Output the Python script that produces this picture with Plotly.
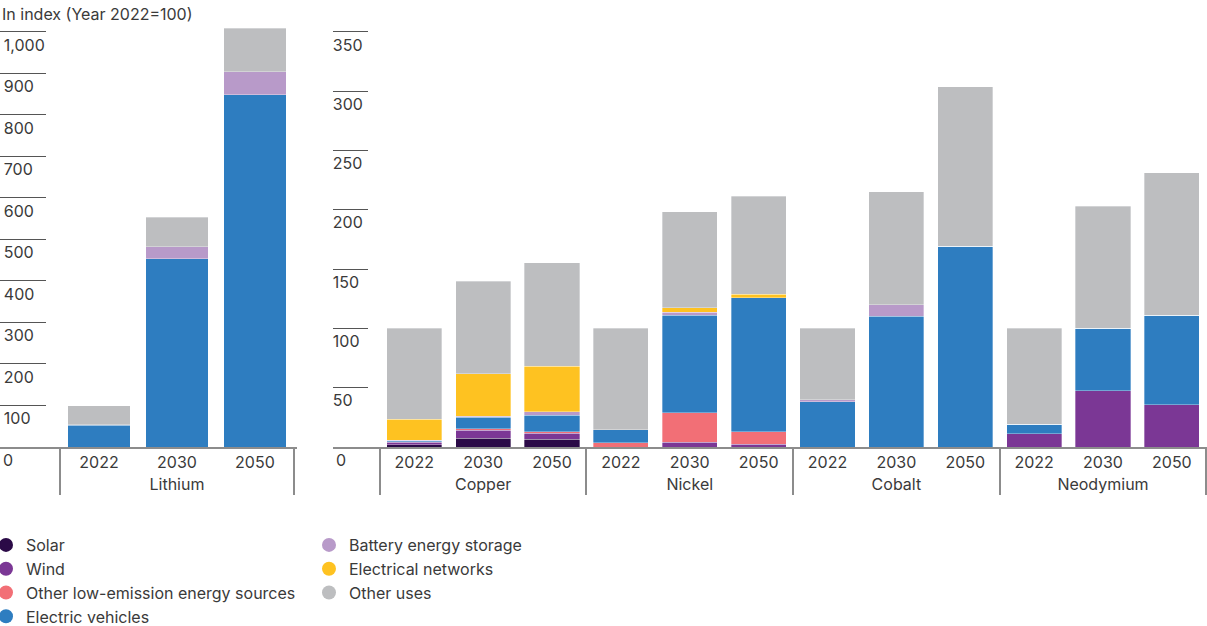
import plotly.graph_objects as go

# ---------------- data ----------------
years = ["2022", "2030", "2050"]
left_minerals = ["Lithium"]
right_minerals = ["Copper", "Nickel", "Cobalt", "Neodymium"]

series_names = ["Solar", "Wind", "Other low-emission energy sources", "Electric vehicles",
                "Battery energy storage", "Electrical networks", "Other uses"]
series_colors = ["#2b0a47", "#7b3795", "#f26f76", "#2e7dc0", "#b89ac9", "#fec221", "#bdbec0"]

# Lithium 2022, 2030, 2050
lithium = {
    "Solar": [0, 0, 0],
    "Wind": [0, 0, 0],
    "Other low-emission energy sources": [0, 0, 0],
    "Electric vehicles": [52, 454, 849],
    "Battery energy storage": [2, 29, 55],
    "Electrical networks": [0, 0, 0],
    "Other uses": [46, 70, 105],
}
# Copper, Nickel, Cobalt, Neodymium x (2022, 2030, 2050)
solar = [2, 7.4, 6.5, 0, 0, 0, 0, 0, 0, 0, 0, 0]
wind = [2, 6.8, 4.9, 0, 4, 2.2, 0, 0, 0, 11.2, 47.5, 35.7]
other_low = [0.5, 1.4, 1.4, 3.5, 25, 10.5, 0, 0, 0, 0, 0, 0]
ev = [0.9, 9.6, 14.1, 11, 82.2, 113, 38, 110.3, 169.4, 7.9, 52.8, 75.3]
battery = [0.5, 0.9, 2.8, 0, 2.4, 0, 1.7, 9.5, 0, 0, 0, 0]
networks = [17.3, 35.7, 38.5, 0, 3.7, 3.3, 0, 0, 0, 0, 0, 0]
other_uses = [76.8, 77.8, 87.3, 85.5, 81.1, 82.6, 60.3, 95.5, 134.6, 80.9, 102.8, 120.3]
right_values = [solar, wind, other_low, ev, battery, networks, other_uses]

left_ticks = list(range(0, 1001, 100))
right_ticks = list(range(0, 351, 50))

legend_col1 = ["Solar", "Wind", "Other low-emission energy sources", "Electric vehicles"]

# ---------------- figure ----------------
FONT = "Inter"
TXT = "#3a3a3a"
LINE = "#8c8c8c"

fig = go.Figure()

x_left = [[m for m in left_minerals for _ in years], [y for _ in left_minerals for y in years]]
x_right = [[m for m in right_minerals for _ in years], [y for _ in right_minerals for y in years]]

bar_line = dict(color="rgba(255,255,255,0.55)", width=0.6)

for name, color, rvals in zip(series_names, series_colors, right_values):
    fig.add_trace(go.Bar(x=x_left, y=lithium[name], marker=dict(color=color, line=bar_line),
                         showlegend=False, xaxis="x", yaxis="y", name=name))
    fig.add_trace(go.Bar(x=x_right, y=rvals, marker=dict(color=color, line=bar_line),
                         showlegend=False, xaxis="x2", yaxis="y2", name=name))

# legend entries (circles)
for name, color in zip(series_names, series_colors):
    fig.add_trace(go.Scatter(x=[None], y=[None], mode="markers", name=name,
                             marker=dict(color=color, size=14, symbol="circle"),
                             xaxis="x3", yaxis="y3",
                             legend="legend" if name in legend_col1 else "legend2"))

common_x = dict(type="multicategory", showline=True, linecolor=LINE, linewidth=1.5,
                ticks="", showgrid=False, showdividers=True, dividercolor=LINE, dividerwidth=1.5,
                tickfont=dict(family=FONT, size=16, color=TXT), automargin=False, fixedrange=True,
                ticklabelstandoff=0, tickangle=0)
common_y = dict(showgrid=False, zeroline=False, showline=False, ticks="inside",
                tickcolor="#555555", tickwidth=1, ticklabelposition="inside",
                ticklabelshift=13, tickfont=dict(family=FONT, size=16, color=TXT),
                tickformat=",d", automargin=False, fixedrange=True)

legend_common = dict(xanchor="left", yanchor="top", orientation="v", traceorder="normal",
                     font=dict(family=FONT, size=16, color=TXT),
                     bgcolor="rgba(0,0,0,0)", tracegroupgap=0)

# zero labels (plotly hides inside tick labels that fall below the plot area)
zero_labels = [dict(text="0", x=0, y=0, xref="x domain", yref="y", xanchor="left",
                    yanchor="middle", xshift=1, yshift=-13, showarrow=False,
                    font=dict(family=FONT, size=16, color=TXT)),
               dict(text="0", x=0, y=0, xref="x2 domain", yref="y2", xanchor="left",
                    yanchor="middle", xshift=1, yshift=-13, showarrow=False,
                    font=dict(family=FONT, size=16, color=TXT))]

fig.update_layout(
    width=1207, height=626,
    margin=dict(l=0, r=0, t=22, b=179, autoexpand=False),
    paper_bgcolor="white", plot_bgcolor="white",
    barmode="stack", bargap=0.2,
    font=dict(family=FONT, size=16, color=TXT),
    xaxis=dict(common_x, domain=[0, 0.2461], range=[-1.27, 2.54], anchor="y"),
    yaxis=dict(common_y, domain=[0, 1], range=[0, 1024], tickvals=left_ticks, ticklen=46,
               ticklabelstandoff=-42, anchor="x"),
    xaxis2=dict(common_x, domain=[0.2759, 1], range=[-1.18, 11.51], anchor="y2"),
    yaxis2=dict(common_y, domain=[0, 1], range=[0, 358.4], tickvals=right_ticks, ticklen=35,
                ticklabelstandoff=-35, anchor="x2"),
    xaxis3=dict(visible=False, domain=[0, 0.01], anchor="y3"),
    yaxis3=dict(visible=False, domain=[0, 0.01], anchor="x3"),
    legend=dict(legend_common, x=-0.0116, y=-0.1906),
    legend2=dict(legend_common, x=0.256, y=-0.1906),
    annotations=[dict(text="In index (Year 2022=100)", x=0, y=1, xref="paper", yref="paper",
                      xanchor="left", yanchor="bottom", yshift=-4, xshift=0, showarrow=False,
                      font=dict(family=FONT, size=16, color=TXT))] + zero_labels,
)

fig.write_html("out.html", config={"displayModeBar": False},
               post_script="document.body.style.margin='0';document.body.style.overflow='hidden';")
